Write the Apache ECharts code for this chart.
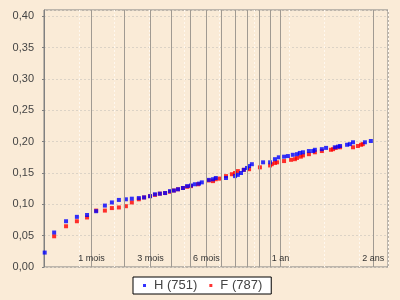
<!DOCTYPE html>
<html>
<head>
<meta charset="utf-8">
<script src="https://cdn.jsdelivr.net/npm/echarts@6/dist/echarts.min.js"></script>
<style>
html,body{margin:0;padding:0;background:#faebd7;}
#c{width:400px;height:300px;}
</style>
</head>
<body>
<div id="c"></div>
<script>
// x in display units (transformed time), y = values
const hX = [0.02,0.29,0.63,0.94,1.23,1.49,1.74,1.94,2.14,2.34,2.51,2.71,2.86,3.03,3.17,3.31,3.46,3.60,3.71,3.83,3.97,4.09,4.20,4.31,4.43,4.51,4.71,4.83,4.91,5.20,5.46,5.54,5.63,5.71,5.80,5.86,5.94,6.26,6.46,6.60,6.71,6.86,6.97,7.11,7.23,7.31,7.40,7.57,7.69,7.74,7.94,8.06,8.31,8.40,8.46,8.66,8.74,8.83,9.17,9.34];
const hY = [0.023,0.055,0.073,0.080,0.083,0.089,0.098,0.103,0.107,0.108,0.109,0.110,0.111,0.113,0.116,0.117,0.118,0.121,0.122,0.124,0.126,0.129,0.130,0.132,0.133,0.135,0.139,0.140,0.142,0.142,0.145,0.147,0.150,0.155,0.158,0.161,0.164,0.167,0.167,0.172,0.175,0.176,0.177,0.179,0.180,0.182,0.183,0.185,0.185,0.187,0.188,0.190,0.191,0.192,0.193,0.195,0.196,0.199,0.199,0.201];
const fX = [0.29,0.63,0.94,1.23,1.49,1.74,1.94,2.14,2.34,2.51,2.71,2.86,3.03,3.17,3.31,3.46,3.60,3.71,3.83,3.97,4.09,4.20,4.40,4.71,4.83,4.91,5.03,5.20,5.37,5.46,5.54,5.71,5.86,6.17,6.46,6.51,6.60,6.66,6.86,7.06,7.17,7.23,7.34,7.40,7.57,7.74,7.94,8.20,8.26,8.34,8.46,8.83,8.97,9.06,9.11];
const fY = [0.049,0.065,0.073,0.079,0.090,0.090,0.094,0.095,0.097,0.103,0.108,0.111,0.113,0.115,0.117,0.118,0.120,0.122,0.124,0.126,0.128,0.129,0.132,0.138,0.137,0.140,0.141,0.145,0.148,0.150,0.153,0.155,0.156,0.159,0.162,0.164,0.166,0.167,0.169,0.171,0.172,0.174,0.176,0.178,0.180,0.183,0.185,0.187,0.188,0.190,0.191,0.191,0.193,0.195,0.196];
// month marker positions (same x units) and their labels
const monthPos = [1.357,2.300,3.043,3.643,4.186,4.643,5.071,5.471,5.814,6.157,6.471,6.757,9.414];
const monthLabels = ['1 mois','','3 mois','','','6 mois','','','','','','1 an','2 ans'];
const seriesNames = ['H (751)','F (787)'];

const chart = echarts.init(document.getElementById('c'), null, {renderer:'canvas'});
const zip = (xs, ys) => xs.map((x,i)=>[x, ys[i]]);
const FONT = '"Liberation Sans", Arial, sans-serif';

chart.setOption({
  animation:false,
  backgroundColor:'#faebd7',
  grid:{left:44, top:10, right:12, bottom:33, show:true, backgroundColor:'#faebd7', borderColor:'#808080', borderWidth:1},
  legend:{
    data:seriesNames, left:133, top:277,
    backgroundColor:'#ffffff', borderColor:'#000000', borderWidth:1, borderRadius:0,
    padding:[2,9,2,10], itemWidth:3, itemHeight:3, itemGap:12,
    textStyle:{fontFamily:FONT, fontSize:13, color:'#444', padding:[0,0,0,3]}
  },
  xAxis:{
    type:'value', min:0, max:9.83, interval:1,
    axisLine:{show:false}, axisTick:{show:false}, axisLabel:{show:false},
    splitLine:{show:true, lineStyle:{color:'#fff8ef', type:[2,2], width:1}}
  },
  yAxis:{
    type:'value', min:0, max:0.41, interval:0.05, offset:4,
    axisLine:{show:true, lineStyle:{color:'#808080'}},
    axisTick:{show:true, length:2, lineStyle:{color:'#808080'}},
    axisLabel:{margin:6, fontFamily:FONT, fontSize:11, color:'#444',
      formatter:v=>v.toFixed(2).replace('.',',')},
    splitLine:{show:true, lineStyle:{color:'#dcd3c6', type:[2,2], width:1}}
  },
  series:[
    {name:seriesNames[1], type:'scatter', symbol:'rect', symbolSize:4,
     itemStyle:{color:'#ff0000'}, data:zip(fX,fY),
     markLine:{silent:true, symbol:['none','none'], animation:false,
       lineStyle:{color:'#a09a92', type:'solid', width:1},
       label:{show:true, position:'start', distance:-13, fontFamily:FONT, fontSize:9, color:'#333',
         formatter:p=>p.name},
       emphasis:{disabled:true},
       data:monthPos.map((v,i)=>({xAxis:v, name:monthLabels[i]}))}
    },
    {name:seriesNames[0], type:'scatter', symbol:'rect', symbolSize:4,
     itemStyle:{color:'#0000ff'}, data:zip(hX,hY)}
  ]
});
</script>
</body>
</html>
